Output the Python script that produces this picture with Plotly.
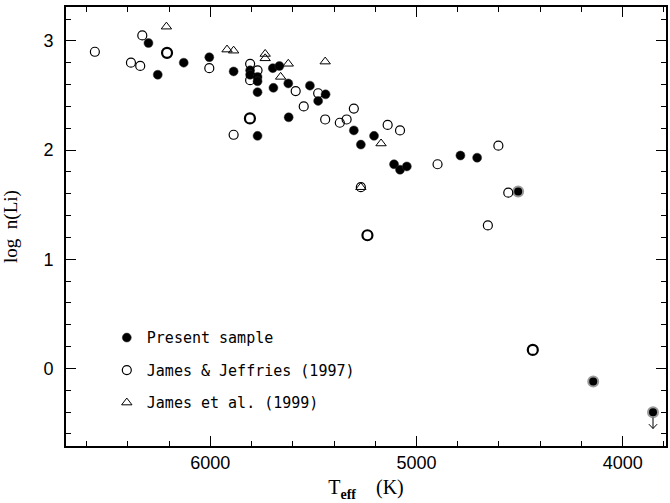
import plotly.graph_objects as go

# Present sample (filled circles)
ps_teff = [6300, 6255, 6129, 6005, 5887, 5807, 5807, 5771, 5771, 5771, 5771,
           5697, 5665, 5694, 5622, 5517, 5620, 5441, 5477, 5304, 5206, 5270,
           5109, 5080, 5047, 4787, 4706]
ps_li = [2.98, 2.69, 2.80, 2.85, 2.72, 2.73, 2.69, 2.67, 2.63, 2.53, 2.13,
         2.75, 2.77, 2.57, 2.61, 2.59, 2.30, 2.51, 2.45, 2.18, 2.13, 2.05,
         1.87, 1.82, 1.85, 1.95, 1.93]
# Present sample, dithered (grey halo) points
psh_teff = [4507, 4143, 3853]
psh_li = [1.62, -0.12, -0.40]
# upper limit
ul_teff = [3853]
ul_li = [-0.40]

# James & Jeffries (1997) open circles
jj_teff = [6560, 6330, 6385, 6340, 6005, 5887, 5807, 5771, 5807, 5586, 5547,
           5477, 5443, 5372, 5339, 5304, 5140, 5080, 5270, 4898, 4603, 4555,
           4654]
jj_li = [2.90, 3.05, 2.80, 2.77, 2.75, 2.14, 2.79, 2.73, 2.64, 2.54, 2.40,
         2.52, 2.28, 2.25, 2.28, 2.38, 2.23, 2.18, 1.66, 1.87, 2.04, 1.61,
         1.31]
# James & Jeffries bold (doubled) circles
jjb_teff = [6210, 5808, 5238, 4436]
jjb_li = [2.89, 2.29, 1.22, 0.17]

# James et al. (1999) triangles
je_teff = [6213, 5919, 5887, 5734, 5734, 5622, 5659, 5443, 5172, 5270]
je_li = [3.13, 2.92, 2.91, 2.88, 2.84, 2.79, 2.67, 2.81, 2.06, 1.66]

x_range = [6700, 3790]
y_range = [-0.71, 3.31]

fig = go.Figure()

fig.add_trace(go.Scatter(
    x=ps_teff, y=ps_li, mode="markers", name="Present sample",
    marker=dict(symbol="circle", size=9, color="black",
                line=dict(color="#333", width=0.5)),
    legendgroup="a"))
fig.add_trace(go.Scatter(
    x=psh_teff, y=psh_li, mode="markers", showlegend=False,
    marker=dict(symbol="circle", size=10, color="black",
                line=dict(color="#9a9a9a", width=2)),
    legendgroup="a"))
fig.add_trace(go.Scatter(
    x=jj_teff, y=jj_li, mode="markers", name="James & Jeffries (1997)",
    marker=dict(symbol="circle-open", size=9, color="black",
                line=dict(width=1.2)),
    legendgroup="b"))
fig.add_trace(go.Scatter(
    x=jjb_teff, y=jjb_li, mode="markers", showlegend=False,
    marker=dict(symbol="circle-open", size=10, color="black",
                line=dict(width=2.2)),
    legendgroup="b"))
fig.add_trace(go.Scatter(
    x=je_teff, y=je_li, mode="markers", name="James et al. (1999)",
    marker=dict(symbol="triangle-up-open", size=9, color="black",
                line=dict(width=1)),
    legendgroup="c"))

# upper-limit arrows (stem + open V head), derived from the upper-limit points
ax_x, ax_y = [], []
for t, l in zip(ul_teff, ul_li):
    ax_x += [t, t, None, t - 20, t, t + 20, None]
    ax_y += [l - 0.05, l - 0.15, None, l - 0.11, l - 0.15, l - 0.11, None]
fig.add_trace(go.Scatter(x=ax_x, y=ax_y, mode="lines", showlegend=False,
                         line=dict(color="black", width=1), hoverinfo="skip"))

tickfont = dict(family="Liberation Sans, Arial, sans-serif", size=18, color="black")

fig.update_layout(
    template="simple_white",
    width=670, height=503,
    margin=dict(l=66, r=2, t=7, b=57),
    plot_bgcolor="white", paper_bgcolor="white",
    xaxis=dict(
        range=x_range, tickmode="linear", tick0=0, dtick=1000,
        showline=True, linecolor="black", linewidth=1.5, mirror="allticks",
        ticks="inside", ticklen=10, tickwidth=1.2, tickcolor="black",
        showgrid=False, zeroline=False, tickfont=tickfont,
        minor=dict(ticks="inside", ticklen=5, tickwidth=1, tickcolor="black",
                   dtick=200, tick0=0, showgrid=False),
        title=dict(text="T<sub><b>eff</b></sub>    (K)",
                   font=dict(family="Liberation Serif, serif", size=20,
                             color="black"),
                   standoff=8)),
    yaxis=dict(
        range=y_range, tickmode="linear", tick0=0, dtick=1,
        ticksuffix="\u2009\u2009",
        showline=True, linecolor="black", linewidth=1.5, mirror="allticks",
        ticks="inside", ticklen=10, tickwidth=1.2, tickcolor="black",
        showgrid=False, zeroline=False, tickfont=tickfont,
        minor=dict(ticks="inside", ticklen=5, tickwidth=1, tickcolor="black",
                   dtick=0.2, tick0=0, showgrid=False),
        title=dict(text="log  n(Li)",
                   font=dict(family="Liberation Serif, serif", size=19,
                             color="black"),
                   standoff=22)),
    legend=dict(x=0.068, y=0.284, xanchor="left", yanchor="top",
                bgcolor="rgba(0,0,0,0)", traceorder="grouped",
                tracegroupgap=10,
                font=dict(family="DejaVu Sans Mono, monospace", size=15,
                          color="black")),
)

fig.write_html("out.html")
